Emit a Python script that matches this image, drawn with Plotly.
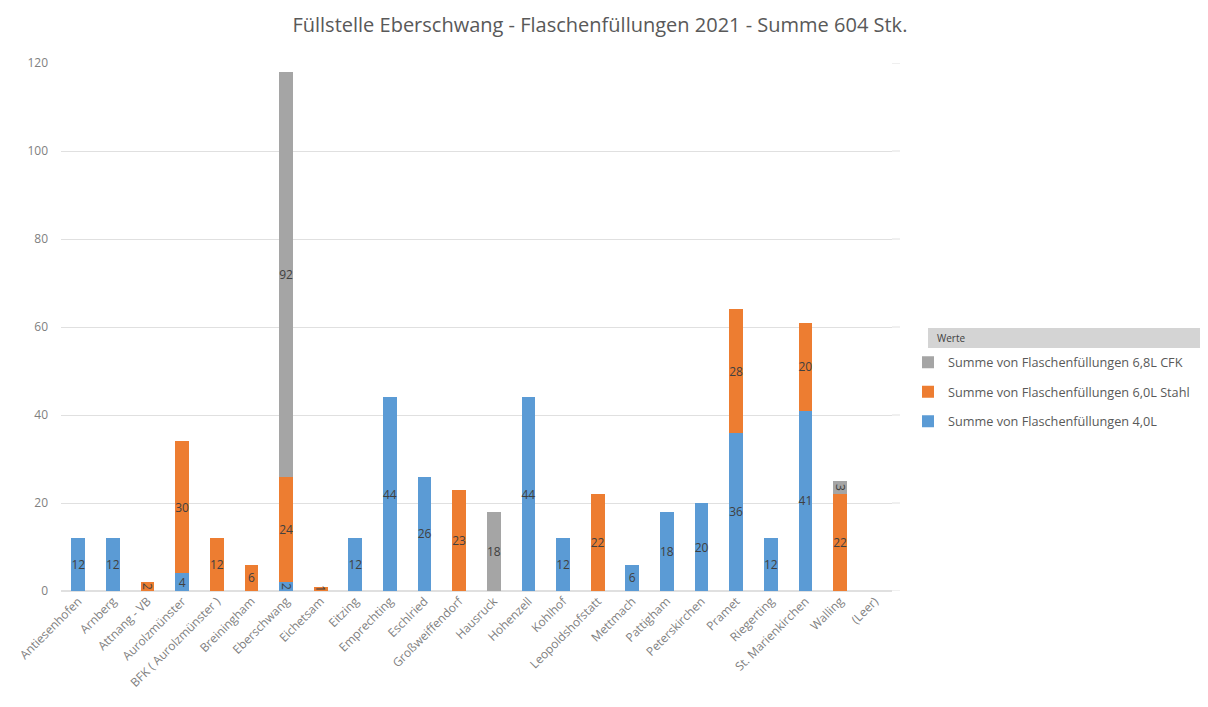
import plotly.graph_objects as go

categories = ["Antiesenhofen", "Arnberg", "Attnang - VB", "Aurolzmünster", "BFK ( Aurolzmünster )",
              "Breiningham", "Eberschwang", "Eichetsam", "Eitzing", "Emprechting", "Eschlried",
              "Großweiffendorf", "Hausruck", "Hohenzell", "Kohlhof", "Leopoldshofstatt", "Mettmach",
              "Pattigham", "Peterskirchen", "Pramet", "Riegerting", "St. Marienkirchen", "Walling", "(Leer)"]

vals_40 = [12, 12, None, 4, None, None, 2, None, 12, 44, 26, None, None, 44, 12, None, 6, 18, 20, 36, 12, 41, None, None]
vals_60_stahl = [None, None, 2, 30, 12, 6, 24, 1, None, None, None, 23, None, None, None, 22, None, None, None, 28, None, 20, 22, None]
vals_68_cfk = [None, None, None, None, None, None, 92, None, None, None, None, None, 18, None, None, None, None, None, None, None, None, None, 3, None]

series = [
    ("Summe von Flaschenfüllungen 4,0L", vals_40, "#5B9BD5"),
    ("Summe von Flaschenfüllungen 6,0L Stahl", vals_60_stahl, "#ED7D31"),
    ("Summe von Flaschenfüllungen 6,8L CFK", vals_68_cfk, "#A5A5A5"),
]

L, R = 53, 324
PW = 1208 - L - R

def px(xfig):
    return (xfig - L) / PW

fig = go.Figure()
for i, (name, vals, color) in enumerate(series):
    fig.add_trace(go.Bar(
        x=categories, y=vals, name=name, legendgroup=f"g{i}", legendrank=100 - i,
        marker=dict(color=color, line=dict(width=0)),
        text=[("" if v is None else str(v)) for v in vals],
        textposition="inside", insidetextanchor="middle", constraintext="none",
        textfont=dict(color="#404040", size=12, family="Open Sans"),
    ))

fig.update_layout(
    barmode="stack", bargap=0.6,
    width=1208, height=707,
    paper_bgcolor="white", plot_bgcolor="white",
    margin=dict(l=L, r=R, t=55, b=124, autoexpand=False),
    font=dict(family="Open Sans", color="#595959", size=12),
    title=dict(text="Füllstelle Eberschwang - Flaschenfüllungen 2021 - Summe 604 Stk.",
               x=0.49, xref="container", xanchor="center", y=0.976, yref="container", yanchor="middle",
               font=dict(size=20, color="#595959", family="Open Sans")),
    xaxis=dict(tickangle=-45, showgrid=False, showline=False, ticks="",
               tickfont=dict(size=12, color="#7f7f7f")),
    yaxis=dict(range=[0, 120], dtick=20, showgrid=True, gridcolor="#e0e0e0",
               zeroline=True, zerolinecolor="#e0e0e0", showline=False,
               tickfont=dict(size=12, color="#7f7f7f"), ticklabelstandoff=12),
    legend=dict(x=px(900), xanchor="left", y=0.461, yanchor="top", traceorder="grouped",
                tracegroupgap=10, font=dict(size=12.7, color="#595959"),
                bgcolor="rgba(0,0,0,0)"),
    showlegend=True,
)

# gridlines extend a little past the last category, as in the reference
for v in range(0, 121, 20):
    fig.add_shape(type="line", xref="paper", yref="y", x0=1.0, x1=px(892), y0=v, y1=v,
                  line=dict(color="#e0e0e0", width=1), layer="below")

fig.add_shape(type="rect", xref="paper", yref="paper",
              x0=px(920), x1=px(1195), y0=0.460, y1=0.498,
              fillcolor="#d4d4d4", line=dict(width=0), layer="below")
fig.add_annotation(text="Werte", xref="paper", yref="paper", x=px(927), y=0.479,
                   xanchor="left", yanchor="middle", showarrow=False,
                   font=dict(size=10, color="#404040"))

fig.write_html("out.html")
